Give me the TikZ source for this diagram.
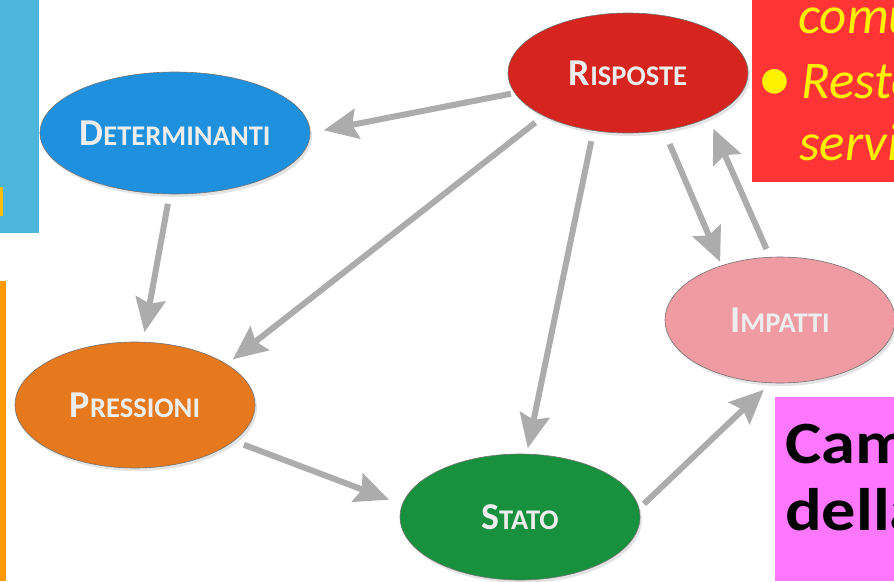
\documentclass[tikz,border=0pt]{standalone}
\usepackage{fontspec}
\setmainfont{Carlito}
\newfontfamily\slidefont[FakeStretch=1.14]{Carlito}
\usetikzlibrary{arrows.meta,shapes.geometric,shadows}
\definecolor{detblue}{RGB}{30,144,222}
\definecolor{rispred}{RGB}{214,36,30}
\definecolor{imppink}{RGB}{240,155,162}
\definecolor{presorange}{RGB}{230,121,30}
\definecolor{statogreen}{RGB}{24,145,62}
\definecolor{flowgray}{RGB}{172,172,172}
\definecolor{sidecyan}{RGB}{78,182,221}
\definecolor{sideyellow}{RGB}{255,192,0}
\definecolor{sideorange}{RGB}{255,153,0}
\definecolor{boxred}{RGB}{255,52,52}
\definecolor{boxmagenta}{RGB}{255,119,255}
\tikzset{
  phase/.style={ellipse, draw=black!55, line width=0.6pt, inner sep=0pt, outer sep=0pt,
    text=white!93!black, font=\bfseries,
    drop shadow={opacity=0.22, shadow xshift=2pt, shadow yshift=-3pt}},
  flow/.style={-{Stealth[length=34pt,width=30pt,inset=5pt]}, line width=6pt, draw=flowgray},
  notetxt/.style={anchor=base west, inner sep=0pt, text=yellow,
    font=\fontsize{53}{53}\selectfont\itshape},
  bigtxt/.style={anchor=base west, inner sep=0pt, text=black,
    font=\slidefont\fontsize{60}{60}\selectfont\bfseries},
}
\newcommand{\capsc}[2]{{\fontsize{38}{38}\selectfont #1}{\fontsize{28.5}{28.5}\selectfont #2}}

\begin{document}
\begin{tikzpicture}[x=1pt, y=-1pt]
    \useasboundingbox (0,0) rectangle (894,581);
    \clip (0,0) rectangle (894,581);
    % --- the five phases ---
    \node[phase, fill=detblue, minimum width=236pt, minimum height=122pt] (det) at (175,133) {\capsc{D}{ETERMINANTI}};
    \node[phase, fill=rispred, minimum width=240pt, minimum height=120pt] (risp) at (628,73) {\capsc{R}{ISPOSTE}};
    \node[phase, fill=imppink, minimum width=230pt, minimum height=126pt] (imp) at (780,320) {\capsc{I}{MPATTI}};
    \node[phase, fill=presorange, minimum width=240pt, minimum height=126pt] (pres) at (135,405) {\capsc{P}{RESSIONI}};
    \node[phase, fill=statogreen, minimum width=240pt, minimum height=126pt] (stato) at (520,517) {\capsc{S}{TATO}};
    % --- arrows between phases ---
    \draw[flow, shorten <=4pt, shorten >=14pt] (risp.190.7) -- (det.0.9);
    \draw[flow, shorten <=10pt, shorten >=10pt] (det.265.2) -- (pres.83.8);
    \draw[flow, shorten <=11pt, shorten >=8pt] (risp.207.3) -- (pres.24.9);
    \draw[flow, shorten <=11pt, shorten >=6pt] (risp.239.2) -- (stato.84.2);
    \draw[flow, shorten <=15pt, shorten >=4pt] (risp.302.2) -- (imp.137.4);
    \draw[flow, shorten <=9pt, shorten >=12pt] (imp.99.5) -- (risp.331.5);
    \draw[flow, shorten <=11pt, shorten >=14pt] (pres.340.5) -- (stato.174.8);
    \draw[flow, shorten <=7pt, shorten >=10pt] (stato.4.1) -- (imp.262.2);
    % --- slide boxes cut by the frame ---
    \fill[sidecyan] (0,0) rectangle (39,233);
    \fill[sideyellow] (0,187) rectangle (3,216);
    \fill[sideorange] (0,281) rectangle (6,581);
    \fill[boxred] (752,0) rectangle (894,182);
    \node[notetxt] (comu) at (798,33) {comu};
    \node[notetxt, font=\fontsize{70}{70}\selectfont] (dot) at (757,101) {•};
    \node[notetxt] (resto) at (801,98) {Resto};
    \node[notetxt] (servi) at (799,160) {servi};
    \fill[boxmagenta] (775,397) rectangle (894,581);
    \node[bigtxt] (cam) at (785,463) {Cam};
    \node[bigtxt] (della) at (785,530) {della};
\end{tikzpicture}
\end{document}
